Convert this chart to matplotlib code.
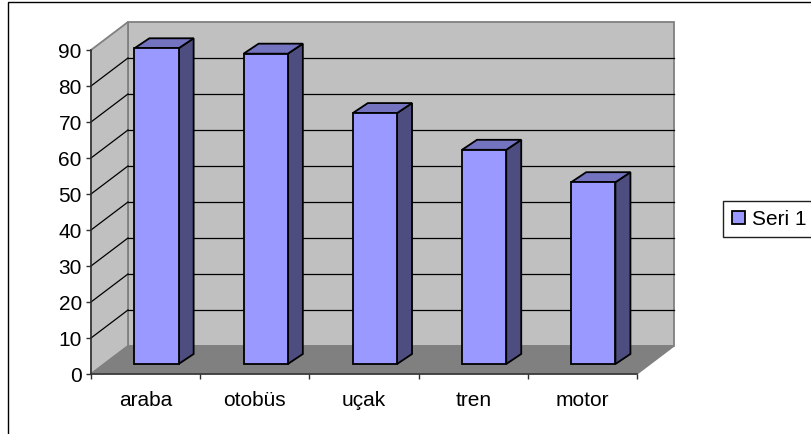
import matplotlib
matplotlib.use("Agg")
import matplotlib.pyplot as plt
from matplotlib.patches import Patch, Polygon, Rectangle

categories = ["araba", "otobüs", "uçak", "tren", "motor"]
values = [87.7, 86.2, 69.7, 59.5, 50.5]
y_ticks = [0, 10, 20, 30, 40, 50, 60, 70, 80, 90]
series_name = "Seri 1"

plt.rcParams['font.family'] = ['Liberation Sans', 'DejaVu Sans']

W, H = 812, 434
fig = plt.figure(figsize=(W / 100, H / 100), dpi=100)
ax = fig.add_axes([91 / W, (H - 374) / H, 546 / W, 324 / H])
ax.set_xlim(0, 5)
ax.set_ylim(0, 90)
ax.patch.set_visible(False)

# depth of the fake 3D box, in data units (37px right, 28px up)
depth_x = 37 / 109.2
depth_y = 28 / 3.6
# bar placement inside the box
shift_x = 0.1
shift_y = 10 / 3.6
bar_w = 0.405
bar_dx = 15 / 109.2
bar_dy = 10 / 3.6

# frame around the whole chart, runs off the right and bottom edge
fig.add_artist(Rectangle((8 / W, -0.02), 1, (H - 2) / H + 0.02, transform=fig.transFigure,
                         fill=False, edgecolor='black', linewidth=1.0))
# legend box, also cut off by the right edge
fig.add_artist(Rectangle((723 / W, (H - 237) / H), 100 / W, 36 / H, transform=fig.transFigure,
                         facecolor='white', edgecolor='#202020', linewidth=1.0))


def poly(points, face, edge, lw, z):
    ax.add_patch(Polygon(points, closed=True, facecolor=face, edgecolor=edge,
                         linewidth=lw, zorder=z, clip_on=False, joinstyle='miter'))


top = y_ticks[-1]
# back wall, side wall, floor
poly([(depth_x, depth_y), (5 + depth_x, depth_y), (5 + depth_x, top + depth_y), (depth_x, top + depth_y)],
     '#C0C0C0', '#808080', 1.3, 1)
poly([(0, 0), (depth_x, depth_y), (depth_x, top + depth_y), (0, top)],
     '#C0C0C0', '#808080', 1.3, 1)
poly([(0, 0), (5, 0), (5 + depth_x, depth_y), (depth_x, depth_y)],
     '#808080', '#808080', 1.0, 1.5)

# gridlines on both walls
for t in y_ticks[1:-1]:
    ax.plot([0, depth_x], [t, t + depth_y], color='black', lw=0.9, zorder=2, clip_on=False)
    ax.plot([depth_x, 5 + depth_x], [t + depth_y, t + depth_y], color='black', lw=0.9, zorder=2, clip_on=False)

# bars: front, side and top faces
for i, v in enumerate(values):
    left = i + 0.5 + shift_x - bar_w / 2
    right = left + bar_w
    bottom = shift_y
    height = bottom + v
    ax.bar(left, v, width=bar_w, bottom=bottom, align='edge', color='#9999FF',
           edgecolor='black', linewidth=1.3, zorder=4, clip_on=False)
    poly([(right, bottom), (right + bar_dx, bottom + bar_dy), (right + bar_dx, height + bar_dy), (right, height)],
         '#4D4D80', 'black', 1.3, 3)
    poly([(left, height), (right, height), (right + bar_dx, height + bar_dy), (left + bar_dx, height + bar_dy)],
         '#7373BF', 'black', 1.3, 3)

for side in ['top', 'right']:
    ax.spines[side].set_visible(False)
for side in ['left', 'bottom']:
    ax.spines[side].set_linewidth(1.1)
    ax.spines[side].set_color('#303030')
    ax.spines[side].set_zorder(5)

ax.set_yticks(y_ticks)
ax.tick_params(axis='y', labelsize=15, length=3.6, width=1.0, pad=3, color='#303030')
ax.set_xticks(range(len(categories) + 1))
ax.set_xticklabels([])
ax.set_xticks([i + 0.5 for i in range(len(categories))], categories, minor=True)
ax.tick_params(axis='x', which='major', length=3.8, width=1.0, color='#303030')
ax.tick_params(axis='x', which='minor', length=0, labelsize=15, pad=12)

handle = Patch(facecolor='#9999FF', edgecolor='black', linewidth=1.3, label=series_name)
fig.legend(handles=[handle], loc='upper left', bbox_to_anchor=(723 / W, (H - 201) / H),
           fontsize=15, frameon=False,
           borderaxespad=0, borderpad=0.42, handlelength=0.62, handleheight=0.62,
           handletextpad=0.36)

fig.savefig("out.png", dpi=100)
